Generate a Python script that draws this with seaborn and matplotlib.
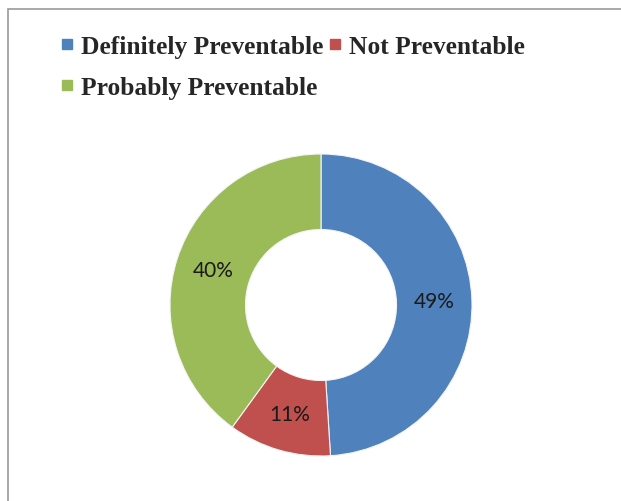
import matplotlib
matplotlib.use("Agg")
import matplotlib.pyplot as plt
import seaborn as sns
from matplotlib.lines import Line2D
from matplotlib.patches import Rectangle

# Preventability breakdown
categories = ["Definitely Preventable", "Not Preventable", "Probably Preventable"]
shares = [49, 11, 40]
colors = ["#4F81BD", "#C0504D", "#9BBB59"]

sns.set_theme(style="white")
plt.rcParams["font.family"] = ["Liberation Serif", "DejaVu Sans"]

W, H = 621, 502
fig = plt.figure(figsize=(W / 100, H / 100), dpi=100)
fig.patch.set_facecolor("white")

# donut geometry in pixels
R = 151
cx, cy = 321, 306
half = 1.1 * R
ax = fig.add_axes([(cx - half) / W, (H - cy - half) / H, 2 * half / W, 2 * half / H])
ax.pie(
    shares,
    colors=colors,
    startangle=90,
    counterclock=False,
    radius=1,
    wedgeprops=dict(width=0.5, edgecolor="#f4f4f4", linewidth=0.8),
    autopct=lambda p: f"{p:.0f}%",
    pctdistance=0.75,
    textprops=dict(fontfamily="Lato", fontsize=15, color="#1a1a1a"),
)
ax.set_xlim(-1.1, 1.1)
ax.set_ylim(-1.1, 1.1)
ax.set_aspect("equal")

# legend: two entries on the first row, one on the second
handles = [
    Line2D([], [], ls="none", marker="s", markersize=7.5,
           markerfacecolor=c, markeredgecolor=c)
    for c in colors
]
order = [0, 2, 1]
fig.legend(
    [handles[i] for i in order],
    [categories[i] for i in order],
    ncol=2,
    loc="upper left",
    bbox_to_anchor=(61 / W, 1 - 36 / H),
    frameon=False,
    prop=dict(family="Liberation Serif", weight="bold", size=18.4),
    handlelength=0.5,
    handletextpad=0.3,
    columnspacing=0.2,
    labelspacing=0.7,
    borderpad=0,
    borderaxespad=0,
)

# chart-area outline
fig.add_artist(Rectangle((8 / W, -0.1), 1.2, (H - 10) / H + 0.1,
                         transform=fig.transFigure, fill=False,
                         edgecolor="#9a9a9a", linewidth=1.2))

fig.savefig("out.png", dpi=100)
